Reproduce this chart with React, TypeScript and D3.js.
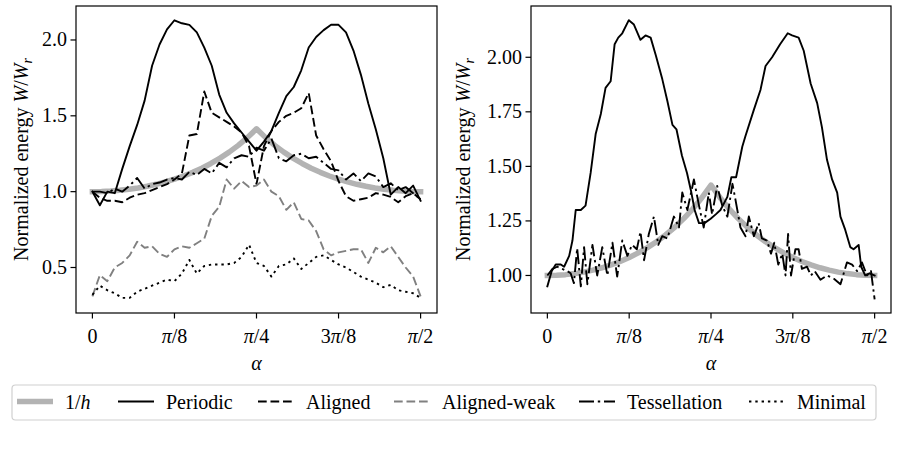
import React from "react";
import * as d3 from "d3";

const FONT = "'Liberation Serif', 'DejaVu Serif', serif";

// ---- data ----
const leftAlphaDeg = [0, 2.045, 4.091, 6.136, 8.182, 10.227, 12.273, 14.318, 16.364, 18.409, 20.455, 22.5, 24.545, 26.591, 28.636, 30.682, 32.727, 34.773, 36.818, 38.864, 40.909, 42.955, 45, 47.045, 49.091, 51.136, 53.182, 55.227, 57.273, 59.318, 61.364, 63.409, 65.455, 67.5, 69.545, 71.591, 73.636, 75.682, 77.727, 79.773, 81.818, 83.864, 85.909, 87.955, 90];

const leftPeriodic = [1.0, 0.91, 1.0, 0.99, 1.15, 1.3, 1.44, 1.6, 1.83, 1.97, 2.07, 2.13, 2.11, 2.1, 2.05, 1.95, 1.83, 1.64, 1.52, 1.45, 1.39, 1.33, 1.27, 1.33, 1.4, 1.52, 1.63, 1.69, 1.8, 1.95, 2.02, 2.065, 2.1, 2.1, 2.05, 1.93, 1.77, 1.58, 1.41, 1.22, 0.98, 1.03, 0.99, 1.04, 0.94];

const leftAligned = [1.0, 0.96, 0.94, 0.94, 0.93, 0.96, 0.98, 0.99, 1.01, 1.03, 1.05, 1.08, 1.12, 1.37, 1.38, 1.66, 1.52, 1.49, 1.46, 1.43, 1.39, 1.3, 1.05, 1.3, 1.4, 1.46, 1.5, 1.52, 1.55, 1.65, 1.37, 1.28, 1.2, 1.07, 0.97, 0.94, 0.95, 0.96, 0.99, 0.98, 0.965, 0.93, 0.97, 0.99, 0.95];

const leftAlignedWeak = [0.31, 0.45, 0.41, 0.5, 0.53, 0.58, 0.67, 0.63, 0.64, 0.59, 0.57, 0.62, 0.64, 0.63, 0.66, 0.69, 0.84, 0.9, 1.08, 1.02, 1.07, 1.03, 1.04, 1.08, 1.0, 0.97, 0.88, 0.93, 0.82, 0.81, 0.74, 0.62, 0.58, 0.6, 0.61, 0.62, 0.62, 0.53, 0.63, 0.6, 0.64, 0.57, 0.5, 0.44, 0.31];

const leftTessellation = [1.0, 1.0, 0.99, 1.02, 1.0, 1.04, 1.09, 1.02, 1.05, 1.06, 1.08, 1.09, 1.08, 1.13, 1.11, 1.15, 1.12, 1.19, 1.16, 1.22, 1.24, 1.23, 1.29, 1.27, 1.35, 1.22, 1.2, 1.24, 1.25, 1.22, 1.23, 1.19, 1.15, 1.14, 1.08, 1.12, 1.07, 1.12, 1.1, 1.03, 1.055, 1.01, 1.03, 0.99, 0.95];

const leftMinimal = [0.32, 0.38, 0.35, 0.33, 0.3, 0.3, 0.34, 0.36, 0.38, 0.4, 0.42, 0.41, 0.46, 0.55, 0.46, 0.51, 0.52, 0.52, 0.52, 0.53, 0.57, 0.65, 0.53, 0.51, 0.44, 0.51, 0.52, 0.56, 0.49, 0.53, 0.57, 0.58, 0.55, 0.52, 0.5, 0.47, 0.44, 0.42, 0.4, 0.37, 0.385, 0.35, 0.34, 0.33, 0.3];

const rightPeriodic: [number, number][] = [
  [0, 0.95], [1.2, 1.02], [2.3, 1.05], [3.7, 1.05], [4.6, 1.04], [6.0, 1.09], [6.9, 1.16], [7.8, 1.3], [9.2, 1.3], [10.5, 1.32],
  [11.9, 1.47], [13.3, 1.65], [14.7, 1.74], [16.0, 1.86], [17.4, 1.89], [18.5, 2.06], [19.5, 2.09], [20.6, 2.11], [22.4, 2.17],
  [23.8, 2.15], [25.6, 2.08], [27.0, 2.1], [28.4, 2.09], [29.8, 2.01], [31.6, 1.9], [33.0, 1.8], [34.4, 1.69], [35.5, 1.67],
  [37.0, 1.55], [38.4, 1.47], [39.6, 1.38], [40.5, 1.3], [41.7, 1.24], [43.2, 1.24], [44.9, 1.26], [46.3, 1.28], [47.6, 1.3],
  [49.5, 1.36], [50.6, 1.45], [51.9, 1.45], [53.6, 1.59], [54.5, 1.64], [56.8, 1.76], [58.6, 1.85], [60.0, 1.96], [61.8, 2.0],
  [64.0, 2.06], [66.1, 2.11], [67.3, 2.1], [69.1, 2.09], [70.5, 2.03], [72.4, 1.88], [74.2, 1.79], [75.5, 1.68], [76.9, 1.53],
  [78.3, 1.44], [79.7, 1.38], [80.6, 1.27], [81.9, 1.21], [83.3, 1.13], [84.2, 1.12], [85.6, 1.14], [86.3, 1.04], [87.4, 1.0],
  [88.6, 1.01], [90, 1.0],
];

const rightTessellation: [number, number][] = [
  [0, 1.0], [1.4, 1.03], [2.7, 1.04], [4.1, 1.03], [5.5, 1.02], [6.4, 1.01], [7.3, 0.965], [8.2, 1.125], [9.2, 0.95], [10.1, 1.13],
  [11.0, 0.96], [12.4, 1.14], [13.7, 1.0], [15.1, 1.13], [16.5, 1.0], [17.9, 1.15], [19.2, 0.995], [20.6, 1.16], [22.0, 1.09],
  [23.3, 1.14], [24.6, 1.12], [25.6, 1.2], [26.6, 1.07], [27.9, 1.19], [29.3, 1.27], [30.5, 1.14], [31.6, 1.18], [33.0, 1.17],
  [34.8, 1.27], [36.2, 1.22], [37.1, 1.38], [38.5, 1.3], [40.3, 1.44], [41.7, 1.32], [43.0, 1.22], [44.4, 1.38], [45.3, 1.28],
  [46.7, 1.41], [48.1, 1.32], [49.5, 1.27], [50.9, 1.42], [51.7, 1.35], [53.1, 1.22], [54.5, 1.18], [55.4, 1.27], [56.8, 1.18],
  [58.1, 1.24], [59.0, 1.17], [60.4, 1.16], [61.5, 1.1], [62.4, 1.15], [63.5, 1.05], [64.6, 1.1], [65.5, 1.0], [66.2, 1.19],
  [67.0, 1.0], [68.2, 1.12], [69.1, 1.12], [70.0, 1.03], [71.4, 1.04], [72.5, 1.0], [73.5, 1.02], [75.1, 0.98], [76.9, 1.0],
  [78.8, 0.985], [80.6, 0.96], [82.4, 1.06], [83.8, 1.05], [85.2, 1.02], [86.5, 1.06], [87.9, 1.0], [89.0, 1.02], [90, 0.89],
];

const invHDeg = [0, 2.5, 5, 7.5, 10, 12.5, 15, 17.5, 20, 22.5, 25, 27.5, 30, 32.5, 35, 37.5, 40, 42.5, 45, 47.5, 50, 52.5, 55, 57.5, 60, 62.5, 65, 67.5, 70, 72.5, 75, 77.5, 80, 82.5, 85, 87.5, 90];
const invHVal = [1.0, 1.001, 1.0038, 1.0086, 1.0154, 1.0243, 1.0353, 1.0485, 1.0642, 1.0824, 1.1034, 1.1274, 1.1547, 1.1857, 1.2208, 1.2605, 1.3054, 1.3563, 1.4142, 1.3563, 1.3054, 1.2605, 1.2208, 1.1857, 1.1547, 1.1274, 1.1034, 1.0824, 1.0642, 1.0485, 1.0353, 1.0243, 1.0154, 1.0086, 1.0038, 1.001, 1.0];

const xTickDeg = [0, 22.5, 45, 67.5, 90];
const xTickLabels = ["0", "π/8", "π/4", "3π/8", "π/2"];
const leftYTicks = [0.5, 1.0, 1.5, 2.0];
const rightYTicks = [1.0, 1.25, 1.5, 1.75, 2.0];
const legendLabels = ["1/h", "Periodic", "Aligned", "Aligned-weak", "Tessellation", "Minimal"];

// ---- styles ----
type St = { stroke: string; width: number; dash?: string; cap: string };
const STY: Record<string, St> = {
  invh: { stroke: "#b3b3b3", width: 5.5, cap: "square" },
  periodic: { stroke: "#000", width: 1.9, cap: "square" },
  aligned: { stroke: "#000", width: 1.9, dash: "8.7 3.8", cap: "butt" },
  weak: { stroke: "#808080", width: 1.9, dash: "8.7 3.8", cap: "butt" },
  tess: { stroke: "#000", width: 1.9, dash: "15 3.8 2.4 3.8", cap: "butt" },
  minimal: { stroke: "#000", width: 1.9, dash: "2.4 3.9", cap: "butt" },
};
const legendKeys = ["invh", "periodic", "aligned", "weak", "tess", "minimal"];

const FS = 20;
const ITALIC = new Set(["π", "α", "h", "W"]);

function MathText({ s }: { s: string }) {
  const parts: { t: string; it: boolean }[] = [];
  for (const ch of s) {
    const it = ITALIC.has(ch);
    const last = parts[parts.length - 1];
    if (last && last.it === it) last.t += ch;
    else parts.push({ t: ch, it });
  }
  return (
    <>
      {parts.map((p, i) => (
        <tspan key={i} fontStyle={p.it ? "italic" : "normal"}>
          {p.t}
        </tspan>
      ))}
    </>
  );
}

type Series = { key: string; pts: [number, number][] };

function Panel({ x0, x1, y0, y1, yDomain, yTicks, fmt, ylabelX, series }: {
  x0: number; x1: number; y0: number; y1: number; yDomain: [number, number];
  yTicks: number[]; fmt: string; ylabelX: number; series: Series[];
}) {
  const x = d3.scaleLinear().domain([-4.5, 94.5]).range([x0, x1]);
  const y = d3.scaleLinear().domain(yDomain).range([y1, y0]);
  const line = d3.line<[number, number]>().x((d) => x(d[0])).y((d) => y(d[1]));
  const f = d3.format(fmt);
  return (
    <g fontFamily={FONT}>
      <defs>
        <clipPath id={`clip${x0}`}>
          <rect x={x0} y={y0} width={x1 - x0} height={y1 - y0} />
        </clipPath>
      </defs>
      <g clipPath={`url(#clip${x0})`}>
        {series.map((s) => {
          const st = STY[s.key];
          return (
            <path key={s.key} d={line(s.pts) || ""} fill="none" stroke={st.stroke} strokeWidth={st.width}
              strokeDasharray={st.dash} strokeLinecap={st.cap as any} strokeLinejoin="round" />
          );
        })}
      </g>
      <rect x={x0} y={y0} width={x1 - x0} height={y1 - y0} fill="none" stroke="#000" strokeWidth={1.2} />
      {xTickDeg.map((t, i) => (
        <g key={i}>
          <line x1={x(t)} x2={x(t)} y1={y1} y2={y1 + 5.5} stroke="#000" strokeWidth={1.2} />
          <text x={x(t)} y={343} textAnchor="middle" fontSize={FS} fontFamily={FONT}>
            <MathText s={xTickLabels[i]} />
          </text>
        </g>
      ))}
      {yTicks.map((t, i) => (
        <g key={i}>
          <line x1={x0} x2={x0 - 5.5} y1={y(t)} y2={y(t)} stroke="#000" strokeWidth={1.2} />
          <text x={x0 - 9} y={y(t) + 6.5} textAnchor="end" fontSize={FS} fontFamily={FONT}>
            {f(t)}
          </text>
        </g>
      ))}
      <text x={(x0 + x1) / 2} y={370} textAnchor="middle" fontSize={FS} fontFamily={FONT} fontStyle="italic">
        α
      </text>
      <text transform={`translate(${ylabelX},${(y0 + y1) / 2}) rotate(-90)`} textAnchor="middle" fontSize={FS} fontFamily={FONT}>
        Normalized energy <tspan fontStyle="italic">W</tspan>/<tspan fontStyle="italic">W</tspan>
        <tspan fontStyle="italic" fontSize={14} dy={3.5}>r</tspan>
      </text>
    </g>
  );
}

const LEGEND_X = [17, 118, 258, 394, 579, 749];

export default function App() {
  const zipL = (vals: number[]): [number, number][] => leftAlphaDeg.map((a, i) => [a, vals[i]]);
  const invH: [number, number][] = invHDeg.map((a, i) => [a, invHVal[i]]);
  const leftSeries: Series[] = [
    { key: "invh", pts: invH },
    { key: "periodic", pts: zipL(leftPeriodic) },
    { key: "aligned", pts: zipL(leftAligned) },
    { key: "weak", pts: zipL(leftAlignedWeak) },
    { key: "tess", pts: zipL(leftTessellation) },
    { key: "minimal", pts: zipL(leftMinimal) },
  ];
  const rightSeries: Series[] = [
    { key: "invh", pts: invH },
    { key: "periodic", pts: rightPeriodic },
    { key: "tess", pts: rightTessellation },
  ];
  return (
    <svg width={899} height={476} fontFamily={FONT} style={{ position: "absolute", left: 0, top: 0, background: "#fff", fontFamily: FONT }}>
      <rect x={0} y={0} width={899} height={476} fill="#fff" />
      <Panel x0={76} x1={437} y0={6} y1={313} yDomain={[0.2, 2.224]} yTicks={leftYTicks} fmt=".1f" ylabelX={28} series={leftSeries} />
      <Panel x0={531} x1={891} y0={6} y1={313} yDomain={[0.828, 2.235]} yTicks={rightYTicks} fmt=".2f" ylabelX={470} series={rightSeries} />
      <rect x={12} y={385} width={864} height={35} rx={3.5} fill="#fff" stroke="#d0d0d0" strokeWidth={1.2} />
      {legendLabels.map((lab, i) => {
        const st = STY[legendKeys[i]];
        const hx = LEGEND_X[i];
        return (
          <g key={lab}>
            <line x1={hx} x2={hx + 36} y1={401.5} y2={401.5} stroke={st.stroke} strokeWidth={st.width}
              strokeDasharray={st.dash} strokeLinecap="butt" />
            <text x={hx + 48} y={408.5} fontSize={FS} fontFamily={FONT}>
              <MathText s={lab} />
            </text>
          </g>
        );
      })}
    </svg>
  );
}
